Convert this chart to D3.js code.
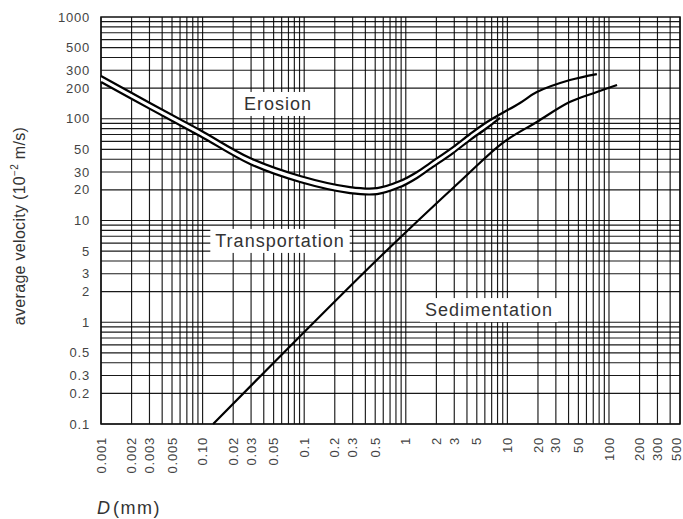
<!DOCTYPE html>
<html>
<head>
<meta charset="utf-8">
<script src="https://cdn.jsdelivr.net/npm/d3@7"></script>
<style>
  body { margin: 0; background: #fff; }
  text { font-family: "Liberation Sans", Arial, sans-serif; }
</style>
</head>
<body>
<div id="vis"></div>
<script>
'use strict';

// tick values and labels (the original chart prints "0.10" where 0.01 should be)
const xTicks = [0.001, 0.002, 0.003, 0.005, 0.01, 0.02, 0.03, 0.05, 0.1, 0.2, 0.3, 0.5,
                1, 2, 3, 5, 10, 20, 30, 50, 100, 200, 300, 500];
const xTickLabels = ["0.001", "0.002", "0.003", "0.005", "0.10", "0.02", "0.03", "0.05",
                     "0.1", "0.2", "0.3", "0.5", "1", "2", "3", "5", "10", "20", "30", "50",
                     "100", "200", "300", "500"];
const yTicks = [0.1, 0.2, 0.3, 0.5, 1, 2, 3, 5, 10, 20, 30, 50, 100, 200, 300, 500, 1000];

// curves: [grain size D (mm), velocity (10^-2 m/s)]
const erosionUpper = [[0.001, 263], [0.00303, 143], [0.00942, 77.5], [0.0293, 41.1],
                      [0.0911, 27.4], [0.283, 21.3], [0.521, 20.8], [0.877, 24.4],
                      [1.29, 30], [1.73, 36.7], [2.92, 52.7], [4.29, 70.8], [6.3, 92.9],
                      [13.3, 143], [19.5, 183], [41.3, 240], [76, 275]];
const erosionLower = [[0.001, 230], [0.00303, 125], [0.00942, 67.7], [0.0293, 35.9],
                      [0.0911, 23.9], [0.283, 18.6], [0.521, 18.2], [0.877, 21.3],
                      [1.29, 26.2], [1.73, 32.1], [2.92, 46], [4.29, 61.8], [6.3, 81.1],
                      [8.45, 102]];
const sedimentation = [[0.0127, 0.1], [0.09, 0.72], [0.56, 4.4], [3.7, 26], [9, 58],
                       [19.5, 93], [41, 146], [76, 183], [120, 215]];

// region labels: [text, D, v]
const regionLabels = [["Erosion", 0.0552, 122], ["Transportation", 0.0578, 5.5],
                      ["Sedimentation", 6.6, 1.15]];

var svg = d3.select('#vis')
    .append('svg')
    .attr('width', 683)
    .attr('height', 519);

var margin = {top: 17, right: 3, bottom: 95, left: 101},
    width = 683 - margin.left - margin.right,
    height = 519 - margin.top - margin.bottom;

var x = d3.scaleLog().domain([0.001, 500]).range([margin.left, margin.left + width]);
var y = d3.scaleLog().domain([0.1, 1000]).range([margin.top + height, margin.top]);

// every 1..9 step of each decade
function minorValues(lo, hi) {
  var vals = [];
  for (var e = Math.round(Math.log10(lo)); Math.pow(10, e) < hi; e++) {
    for (var k = 1; k < 10; k++) {
      var v = k * Math.pow(10, e);
      if (v <= hi * 1.0001) vals.push(v);
    }
  }
  return vals;
}

var grid = svg.append('g')
  .attr('stroke', '#000')
  .attr('stroke-opacity', 0.9)
  .attr('stroke-width', 1.15);
grid.selectAll('line.v')
  .data(minorValues(0.001, 500))
  .enter().append('line')
  .attr('x1', function(d) { return x(d); }).attr('x2', function(d) { return x(d); })
  .attr('y1', margin.top).attr('y2', margin.top + height);
grid.selectAll('line.h')
  .data(minorValues(0.1, 1000))
  .enter().append('line')
  .attr('y1', function(d) { return y(d); }).attr('y2', function(d) { return y(d); })
  .attr('x1', margin.left).attr('x2', margin.left + width);

// plot border
svg.append('rect')
  .attr('x', margin.left).attr('y', margin.top)
  .attr('width', width).attr('height', height)
  .attr('fill', 'none').attr('stroke', '#111').attr('stroke-width', 1.5);

var line = d3.line()
  .x(function(d) { return x(d[0]); })
  .y(function(d) { return y(d[1]); })
  .curve(d3.curveCatmullRom.alpha(0.5));

// white gap between the two erosion curves
var bandTop = erosionUpper.filter(function(d) { return d[0] <= 6.3; });
var bandPath = line(bandTop) + line(erosionLower.slice().reverse()).replace(/^M/, 'L') + 'Z';
svg.append('path').attr('d', bandPath).attr('fill', '#fff').attr('stroke', 'none');

[erosionUpper, erosionLower, sedimentation].forEach(function(c) {
  svg.append('path')
    .attr('d', line(c))
    .attr('fill', 'none')
    .attr('stroke', '#000')
    .attr('stroke-width', 2.2);
});

// region labels with white boxes behind
regionLabels.forEach(function(l) {
  var g = svg.append('g');
  var t = g.append('text')
    .attr('x', x(l[1])).attr('y', y(l[2]))
    .attr('text-anchor', 'middle')
    .attr('font-size', 18)
    .attr('letter-spacing', 1)
    .attr('fill', '#333')
    .text(l[0]);
  var b = t.node().getBBox();
  g.insert('rect', 'text')
    .attr('x', b.x - 5).attr('y', b.y - 2)
    .attr('width', b.width + 10).attr('height', b.height + 4)
    .attr('fill', '#fff');
});

// y tick labels
svg.append('g').selectAll('text')
  .data(yTicks)
  .enter().append('text')
  .attr('x', margin.left - 11)
  .attr('y', function(d) { return y(d); })
  .attr('dy', '0.35em')
  .attr('text-anchor', 'end')
  .attr('font-size', 13)
  .attr('letter-spacing', 0.8)
  .attr('fill', '#444')
  .text(function(d) { return d; });

// x tick labels, rotated
svg.append('g').selectAll('text')
  .data(xTicks)
  .enter().append('text')
  .attr('transform', function(d) {
    return 'translate(' + Math.min(x(d), 676) + ',' + (margin.top + height + 13) + ') rotate(-90)';
  })
  .attr('dy', '0.35em')
  .attr('text-anchor', 'end')
  .attr('font-size', 13)
  .attr('letter-spacing', 0.8)
  .attr('fill', '#444')
  .text(function(d, i) { return xTickLabels[i]; });

// y axis title, centred by measuring its length
var yt = svg.append('text')
  .attr('font-size', 16)
  .attr('letter-spacing', 0.3)
  .attr('fill', '#333');
yt.append('tspan').text('average velocity (10');
yt.append('tspan').attr('font-size', 10).attr('dy', -7).text('\u22122');
yt.append('tspan').attr('dy', 7).text(' m/s)');
var ytLen = yt.node().getBBox().width;
yt.attr('transform', 'translate(25,' + (226 + ytLen / 2) + ') rotate(-90)');

// x axis title
var xt = svg.append('text')
  .attr('x', 97).attr('y', 514)
  .attr('font-size', 18)
  .attr('fill', '#333');
xt.append('tspan').attr('font-style', 'italic').text('D');
xt.append('tspan').attr('dx', 3).attr('letter-spacing', 1.5).text('(mm)');
</script>
</body>
</html>
